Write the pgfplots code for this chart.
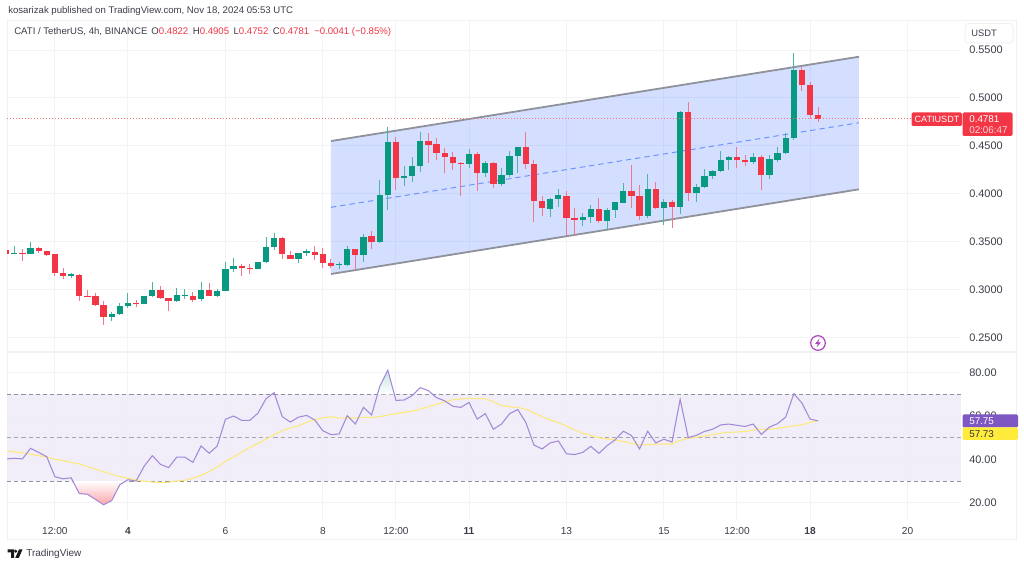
\documentclass[border=0pt]{standalone}
\usepackage{fontspec}
\setmainfont{Liberation Sans}
\usepackage{pgfplots}
\usepackage{pgfplotstable}
\pgfplotsset{compat=1.18}
\definecolor{tvgreen}{HTML}{089981}
\definecolor{tvred}{HTML}{F23645}
\definecolor{tvblue}{HTML}{2962FF}
\definecolor{tvmag}{HTML}{AB47BC}
\definecolor{wickgreen}{HTML}{4FB5A3}
\definecolor{wickred}{HTML}{F0788A}
\definecolor{gridc}{HTML}{F3F3F6}
\definecolor{framec}{HTML}{F0F1F5}
\definecolor{txt}{HTML}{3B3E48}
\definecolor{rsic}{HTML}{A48AD8}
\definecolor{mac}{HTML}{FCE97A}
\definecolor{bandc}{HTML}{EFECF8}
\definecolor{dashc}{HTML}{8F919B}
\definecolor{labc}{HTML}{7E57C2}
\definecolor{yelc}{HTML}{FFEB3B}
\pgfplotstableread{
i o h l c
-14 .3370 .3454 .3367 .3381
-12 .3367 .3496 .3367 .3433
-7 .3141 .3168 .3123 .3158
-2 .2713 .2765 .2674 .2744
-1 .2740 .2855 .2733 .2827
0 .2827 .2960 .2803 .2859
2 .2848 .2935 .2845 .2932
3 .2928 .3078 .2921 .2994
6 .2876 .3015 .2873 .2939
7 .2935 .3008 .2904 .2942
9 .2897 .3078 .2876 .2998
11 .2935 .3008 .2918 .2984
12 .2987 .3290 .2984 .3210
13 .3214 .3332 .3186 .3248
16 .3217 .3290 .3210 .3283
17 .3283 .3548 .3273 .3447
18 .3447 .3589 .3409 .3534
21 .3322 .3384 .3273 .3377
22 .3381 .3422 .3349 .3398
26 .3256 .3287 .3214 .3270
27 .3256 .3458 .3249 .3426
29 .3360 .3576 .3291 .3552
31 .3492 .4143 .3489 .3990
32 .3987 .4700 .3830 .4543
34 .4168 .4293 .4081 .4188
35 .4185 .4387 .4126 .4293
36 .4293 .4641 .4227 .4554
42 .4310 .4467 .4265 .4415
44 .4213 .4338 .4178 .4317
46 .4101 .4268 .4084 .4195
47 .4195 .4449 .4178 .4397
48 .4394 .4491 .4220 .4484
52 .3844 .3952 .3757 .3945
53 .3945 .4046 .3858 .3987
56 .3729 .3802 .3667 .3760
57 .3757 .3885 .3698 .3844
59 .3719 .3848 .3621 .3830
60 .3830 .3913 .3750 .3910
61 .3903 .4116 .3900 .4032
64 .3768 .4206 .3743 .4046
66 .3851 .3949 .3674 .3917
68 .3858 .4867 .3788 .4857
70 .4004 .4098 .3917 .4066
71 .4070 .4254 .4063 .4181
72 .4185 .4247 .4150 .4233
73 .4233 .4446 .4226 .4355
74 .4355 .4393 .4247 .4379
77 .4331 .4421 .4310 .4386
79 .4195 .4400 .4153 .4359
80 .4355 .4484 .4334 .4421
81 .4421 .4637 .4418 .4578
82 .4578 .5465 .4564 .5291
}\greenT
\pgfplotstableread{
i o h l c
-15 .3409 .3412 .3367 .3370
-13 .3381 .3419 .3297 .3374
-11 .3433 .3447 .3384 .3402
-10 .3398 .3405 .3353 .3363
-9 .3367 .3370 .3144 .3175
-8 .3175 .3228 .3113 .3144
-6 .3154 .3158 .2883 .2932
-5 .2935 .2998 .2921 .2925
-4 .2928 .2967 .2824 .2838
-3 .2838 .2876 .2626 .2716
1 .2859 .2890 .2820 .2845
4 .2994 .3036 .2904 .2911
5 .2911 .2914 .2779 .2876
8 .2935 .2970 .2873 .2893
10 .2998 .3071 .2928 .2935
14 .3248 .3266 .3141 .3221
15 .3224 .3266 .3165 .3217
19 .3534 .3544 .3318 .3367
20 .3363 .3405 .3318 .3322
23 .3395 .3454 .3308 .3363
24 .3367 .3433 .3228 .3276
25 .3276 .3315 .3221 .3248
28 .3423 .3426 .3204 .3360
30 .3555 .3611 .3423 .3492
33 .4543 .4596 .4035 .4168
37 .4554 .4634 .4324 .4509
38 .4516 .4578 .4352 .4422
39 .4425 .4477 .4213 .4383
40 .4383 .4432 .4248 .4317
41 .4324 .4335 .3980 .4314
43 .4415 .4439 .4028 .4213
45 .4317 .4335 .4063 .4105
49 .4484 .4641 .4262 .4314
50 .4314 .4352 .3708 .3927
51 .3927 .3976 .3771 .3847
54 .3976 .4029 .3562 .3743
55 .3750 .3848 .3562 .3726
58 .3844 .3959 .3698 .3719
62 .4032 .4297 .3848 .3976
63 .3976 .4091 .3726 .3771
65 .4046 .4126 .3837 .3851
67 .3910 .3935 .3646 .3861
69 .4853 .4954 .3927 .4004
75 .4379 .4491 .4265 .4352
76 .4348 .4404 .4289 .4331
78 .4386 .4407 .4035 .4195
83 .5291 .5319 .5072 .5135
84 .5135 .5162 .4780 .4821
85 .4822 .4905 .4752 .4781
}\redT
\pgfplotstableread{
i rsi
-15 40.2
-14 40.5
-13 40.2
-12 45.1
-11 43.2
-10 41.2
-9 32.0
-8 31.0
-7 31.5
-6 24.2
-5 23.9
-4 21.5
-3 19.0
-2 21.0
-1 28.3
0 30.6
1 30.0
2 36.9
3 41.7
4 37.7
5 36.2
6 41.0
7 41.0
8 38.6
9 46.2
10 42.8
11 46.2
12 58.5
13 60.0
14 58.0
15 58.0
16 61.3
17 68.0
18 70.8
19 59.7
20 57.2
21 59.5
22 60.3
23 58.2
24 53.2
25 51.4
26 51.7
27 60.2
28 56.3
29 64.0
30 60.5
31 73.6
32 81.2
33 67.2
34 67.4
35 69.4
36 73.1
37 71.7
38 68.5
39 67.0
40 64.5
41 64.0
42 66.3
43 58.6
44 61.1
45 53.9
46 56.3
47 61.1
48 63.0
49 57.0
50 46.6
51 44.8
52 47.6
53 48.5
54 42.6
55 42.2
56 43.2
57 46.0
58 42.8
59 46.3
60 49.0
61 53.0
62 51.0
63 44.8
64 53.0
65 47.6
66 49.3
67 48.0
68 67.7
69 50.0
70 51.1
71 52.9
72 53.9
73 55.9
74 56.3
75 55.7
76 55.2
77 56.3
78 51.5
79 54.9
80 56.5
81 59.5
82 70.3
83 66.0
84 58.6
85 57.75
}\rsiT
\pgfplotstableread{
i ma
-15 44.0
-13 43.0
-11 41.7
-10 41.1
-9 40.0
-8 39.4
-7 38.6
-6 37.9
-5 36.6
-4 35.5
-3 34.3
-2 33.1
-1 32.0
0 31.3
1 30.5
2 29.9
3 29.5
4 29.4
5 29.4
6 30.0
7 30.3
8 31.3
9 32.6
10 34.3
11 36.5
12 39.0
13 41.1
14 43.4
15 45.5
16 47.3
17 49.3
18 51.4
19 53.2
20 54.5
21 55.5
22 57.1
23 58.3
24 59.2
25 59.7
26 59.0
27 59.1
28 59.1
29 59.4
30 59.4
31 59.7
32 60.5
33 61.1
34 61.7
35 62.3
36 63.2
37 64.3
38 65.4
39 66.5
40 67.5
41 67.9
42 68.2
43 68.0
44 68.0
45 66.6
46 64.8
47 64.3
48 64.0
49 63.2
50 61.5
51 59.7
52 58.2
53 57.0
54 55.4
55 53.7
56 52.0
57 51.0
58 50.0
59 49.4
60 49.0
61 48.2
62 47.4
63 46.6
64 46.8
65 47.0
66 47.1
67 47.1
68 48.8
69 49.7
70 50.2
71 50.8
72 51.4
73 52.0
74 52.5
75 52.6
76 52.9
77 53.5
78 53.9
79 53.9
80 54.3
81 54.9
82 55.5
83 55.9
84 57.1
85 57.73
}\maT
\pgfplotsset{
  pane/.style={
    scale only axis, width=715.5pt,
    xmin=-14.9, xmax=102.59,
    axis line style={draw=none},
    major tick length=0pt,
    tick style={draw=none},
    xtick={-9,0,12,24,33,42,54,66,75,84,96},
    xmajorgrids, ymajorgrids,
    grid style={gridc, line width=0.75pt},
    yticklabel pos=right,
    yticklabel style={anchor=west, inner sep=0pt, xshift=6pt, text=txt,
      font=\fontsize{8.2}{10}\selectfont,
      /pgf/number format/assume math mode=true},
    xticklabel style={inner sep=0pt, yshift=-5pt, text=txt, text height=5.6pt, text depth=0pt,
      font=\fontsize{7.6}{10}\selectfont},
  },
  wick/.style={draw=none, no markers, forget plot,
    error bars/.cd, y dir=plus, y explicit, error mark=none,
    error bar style={draw=#1, line width=0.75pt}},
  body/.style={draw=none, no markers, forget plot,
    error bars/.cd, y dir=plus, y explicit, error mark=none,
    error bar style={draw=#1, line width=4.7pt}},
}
\begin{document}
\begin{tikzpicture}
\useasboundingbox (0,0) rectangle (768pt,425.25pt);
\begin{scope}[x=0.75pt,y=-0.75pt,yshift=425.25pt]
  \fill[white] (0,0) rectangle (1024,567);
  \draw[framec,line width=0.75pt] (7,20.5) rectangle (1016,540);
  \fill[framec] (7,351.5) rectangle (1016,353.5);
\end{scope}
\begin{axis}[pane, at={(5.25pt,161.25pt)}, anchor=south west, height=248.25pt,
  ymin=0.2348, ymax=0.5803,
  ytick={0.25,0.30,0.35,0.40,0.45,0.50,0.55},
  xticklabels={},
  yticklabel style={/pgf/number format/.cd, fixed, fixed zerofill, precision=4},
]
  \addplot[fill=tvblue, fill opacity=0.2, draw=none, forget plot]
    coordinates {(25,.4550)(90.02,.5430)(90.02,.4046)(25,.3162)} -- cycle;
  \addplot[dashc, line width=1.35pt, forget plot] coordinates {(25,.4550)(90.02,.5430)};
  \addplot[dashc, line width=1.35pt, forget plot] coordinates {(25,.3162)(90.02,.4046)};
  \addplot[tvblue, opacity=0.6, line width=0.75pt, dash pattern=on 4pt off 3pt, forget plot]
    coordinates {(25,.3858)(90.02,.4741)};
  \addplot[wick={wickgreen}] table[x=i,y=l,y error plus expr=\thisrow{h}-\thisrow{l}] {\greenT};
  \addplot[wick={wickred}] table[x=i,y=l,y error plus expr=\thisrow{h}-\thisrow{l}] {\redT};
  \addplot[body={tvgreen}] table[x=i,y=o,y error plus expr=\thisrow{c}-\thisrow{o}] {\greenT};
  \addplot[body={tvred}] table[x=i,y=c,y error plus expr=\thisrow{o}-\thisrow{c}] {\redT};
  \addplot[tvred!70, line width=0.75pt, dash pattern=on 0.75pt off 1.5pt, forget plot]
    coordinates {(-14.9,.4781)(102.59,.4781)};
\end{axis}
\begin{axis}[pane, at={(5.25pt,35.25pt)}, anchor=south west, height=125.25pt,
  ymin=12.0, ymax=89.1,
  ytick={20,40,60,80},
  xticklabels={12:00,\textbf{4},6,8,12:00,\textbf{11},13,15,12:00,\textbf{18},20},
  yticklabel style={/pgf/number format/.cd, fixed, fixed zerofill, precision=2},
]
  \addplot[fill=bandc, fill opacity=0.85, draw=none, forget plot]
    coordinates {(-14.9,30)(102.59,30)(102.59,70)(-14.9,70)} -- cycle;
  \addplot[dashc, line width=0.75pt, dash pattern=on 3.2pt off 2.2pt, forget plot] coordinates {(-14.9,70)(102.59,70)};
  \addplot[dashc!80, line width=0.75pt, dash pattern=on 3.2pt off 2.2pt, forget plot] coordinates {(-14.9,50)(102.59,50)};
  \addplot[dashc, line width=0.75pt, dash pattern=on 3.2pt off 2.2pt, forget plot] coordinates {(-14.9,30)(102.59,30)};
  \addplot[shade, top color=white, bottom color=tvred!45, draw=none, forget plot]
    coordinates {(-6.8,30)(-6,24.2)(-5,23.9)(-4,21.5)(-3,19.0)(-2,21.0)(-1,28.3)(-0.26,30)} -- cycle;
  \addplot[shade, top color=tvgreen!25, bottom color=white, draw=none, forget plot]
    coordinates {(30.73,70)(31,73.6)(32,81.2)(32.8,70)} -- cycle;
  \addplot[mac, line width=0.8pt, forget plot] table[x=i,y=ma] {\maT};
  \addplot[rsic, line width=0.8pt, forget plot] table[x=i,y=rsi] {\rsiT};
\end{axis}
\begin{scope}[x=0.75pt,y=-0.75pt,yshift=425.25pt]
  \def\hd{\fontsize{7.2}{9}\selectfont}
  \def\lb{\fontsize{7.4}{9}\selectfont}
  \node[anchor=west,inner sep=0pt,text=txt,font=\hd] at (8,11.5)
    {kosarizak published on TradingView.com, Nov 18, 2024 05:53 UTC};
  \node[anchor=west,inner sep=0pt,text=txt,font=\hd] at (14,32.5)
    {CATI / TetherUS, 4h, BINANCE\hspace{3pt}O\textcolor{tvred}{0.4822}\hspace{3.4pt}H\textcolor{tvred}{0.4905}\hspace{3.4pt}L\textcolor{tvred}{0.4752}\hspace{3.4pt}C\textcolor{tvred}{0.4781}\hspace{3.8pt}\textcolor{tvred}{−0.0041 (−0.85\%)}};
  % USDT box
  \draw[framec,fill=white,line width=0.75pt,rounded corners=2.5pt] (965,23.5) rectangle (1013,43);
  \node[inner sep=0pt,text=txt,font=\fontsize{7}{9}\selectfont] at (984,33.5) {USDT};
  % price labels
  \fill[tvred,rounded corners=1pt] (911.5,112.5) rectangle (962,126);
  \node[inner sep=0pt,text=white,font=\fontsize{6.8}{9}\selectfont] at (937,119.5) {CATIUSDT};
  \fill[tvred,rounded corners=1pt] (962.5,112.5) rectangle (1012.5,136);
  \node[anchor=west,inner sep=0pt,text=white,font=\lb] at (969,119) {0.4781};
  \node[anchor=west,inner sep=0pt,text=white!80!tvred,font=\lb] at (969,130) {02:06:47};
  % RSI labels
  \fill[labc,rounded corners=1pt] (962.5,414.5) rectangle (1018,427.5);
  \node[anchor=west,inner sep=0pt,text=white,font=\lb] at (969,421) {57.75};
  \fill[yelc,rounded corners=1pt] (962.5,427.5) rectangle (1018,440);
  \node[anchor=west,inner sep=0pt,text=black!80,font=\lb] at (969,434) {57.73};
  % lightning icon
  \draw[tvmag,line width=0.9pt] (818,343) circle (7.3);
  \fill[tvmag] (819.5,338.5) -- (815,344) -- (817.8,344) -- (816.5,347.5) -- (821,342.3) -- (818.2,342.3) -- cycle;
  % logo
  \fill[black!90] (7.5,549.5) -- (14.2,549.5) -- (14.2,558) -- (11,558) -- (11,552.5) -- (7.5,552.5) -- cycle;
  \fill[black!90] (15.7,551.2) circle (1.7);
  \fill[black!90] (15.2,558) -- (19,549.5) -- (22.5,549.5) -- (18.8,558) -- cycle;
  \node[anchor=west,inner sep=0pt,text=txt,font=\fontsize{7.5}{10}\selectfont] at (26,554) {TradingView};
\end{scope}
\end{tikzpicture}
\end{document}
